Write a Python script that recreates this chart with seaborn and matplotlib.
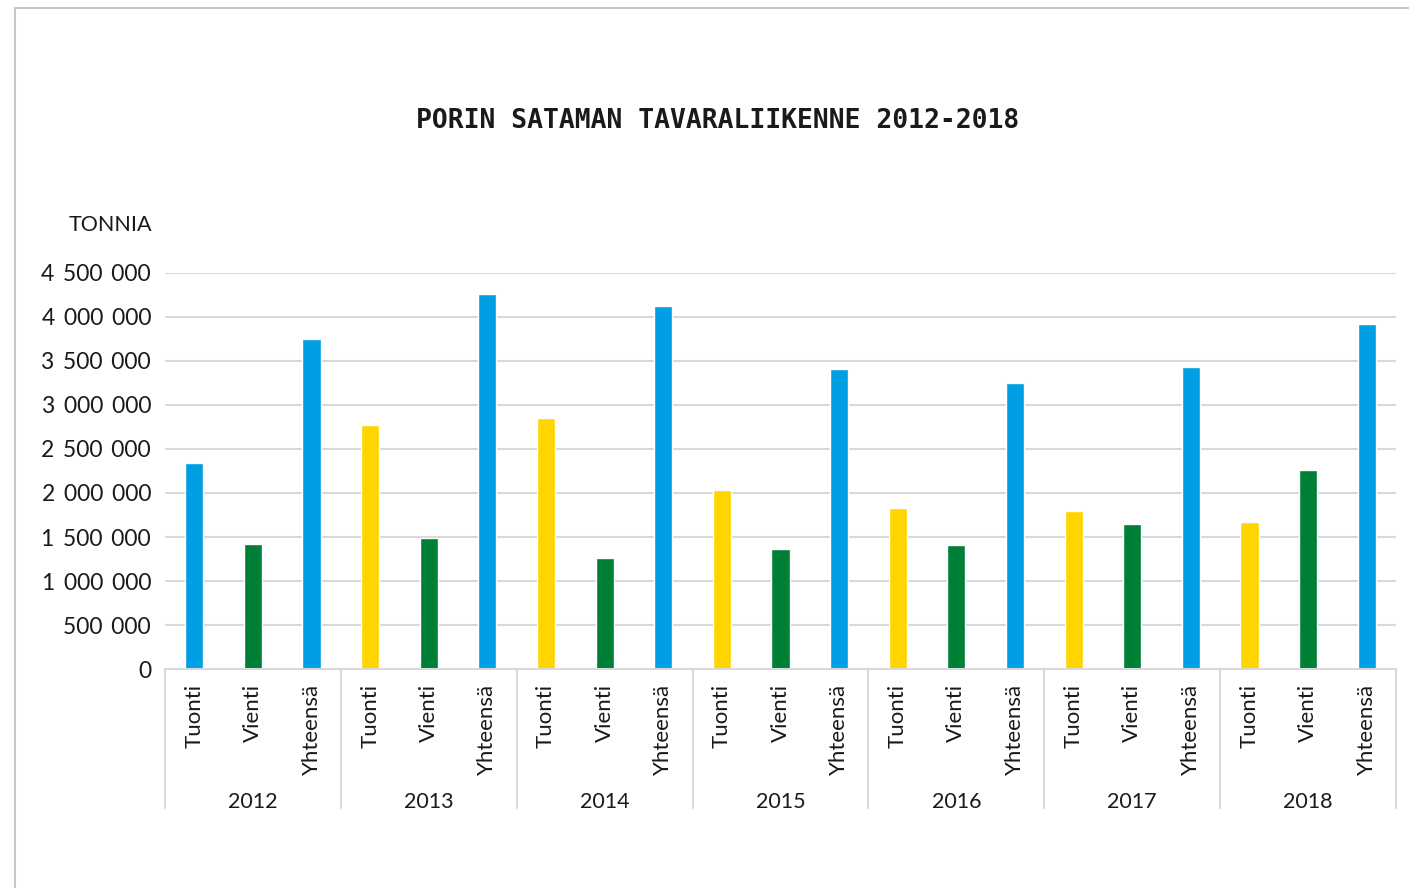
import numpy as np
import pandas as pd
import seaborn as sns
import matplotlib
matplotlib.use('Agg')
import matplotlib.pyplot as plt
from matplotlib.lines import Line2D
from matplotlib.ticker import FuncFormatter

# data (tonnes)
years = ['2012', '2013', '2014', '2015', '2016', '2017', '2018']
categories = ['Tuonti', 'Vienti', 'Yhteensä']
tuonti = [2340000, 2770000, 2850000, 2030000, 1830000, 1790000, 1670000]
vienti = [1420000, 1490000, 1260000, 1360000, 1410000, 1650000, 2260000]
yhteensa = [3750000, 4260000, 4120000, 3410000, 3250000, 3430000, 3920000]

blue = '#009FE3'
green = '#007F36'
yellow = '#FFD500'

rows = []
for i, y in enumerate(years):
    for cat, vals in zip(categories, [tuonti, vienti, yhteensa]):
        rows.append({'key': y + ' ' + cat, 'year': y, 'cat': cat, 'value': vals[i]})
df = pd.DataFrame(rows)

# 2012 import bar is blue in the original, others yellow
colors = []
for _, r in df.iterrows():
    if r['cat'] == 'Vienti':
        colors.append(green)
    elif r['cat'] == 'Yhteensä' or r['year'] == '2012':
        colors.append(blue)
    else:
        colors.append(yellow)

sns.set_style('white')
plt.rcParams['font.family'] = ['Lato', 'DejaVu Sans']

fig = plt.figure(figsize=(14.09, 8.88), dpi=100)
ax = fig.add_axes([0.1171, 0.2466, 0.8737, 0.446])

sns.barplot(data=df, x='key', y='value', hue='key', palette=colors,
            legend=False, width=0.31, saturation=1, ax=ax)

ax.set_ylim(0, 4500000)
ax.set_xlim(-0.5, len(df) - 0.5)
ax.set_yticks(np.arange(0, 4500001, 500000))
ax.yaxis.set_major_formatter(FuncFormatter(lambda v, p: '{:,.0f}'.format(v).replace(',', ' \u2009')))
ax.yaxis.grid(True, color='#d9d9d9', linewidth=1.5)
ax.set_axisbelow(True)

ax.set_xticks(range(len(df)))
ax.set_xticklabels(df['cat'], rotation=90, fontsize=16, color='#1a1a1a')
ax.tick_params(axis='x', length=0, pad=11)
ax.tick_params(axis='y', length=0, pad=10, labelsize=16.5, labelcolor='#1a1a1a')
for lbl in ax.get_xticklabels():
    lbl.set_verticalalignment('top')

for s in ['top', 'right', 'left']:
    ax.spines[s].set_visible(False)
ax.spines['bottom'].set_color('#d9d9d9')
ax.spines['bottom'].set_linewidth(1.5)
ax.set_xlabel('')
ax.set_ylabel('')

# year group separators and labels
trans = ax.get_xaxis_transform()
for i, y in enumerate(years):
    ax.text(i * 3 + 1, -0.336, y, transform=trans, ha='center', va='center',
            fontsize=15.5, color='#1a1a1a')
for b in np.arange(-0.5, len(df), 3):
    ax.plot([b, b], [0, -0.351], transform=trans, color='#d9d9d9',
            linewidth=1.5, clip_on=False)

ax.text(-0.0106, 1.12, 'TONNIA', transform=ax.transAxes, ha='right', va='center',
        fontsize=15.5, color='#1a1a1a')

fig.text(0.509, 1 - 121 / 888, 'PORIN SATAMAN TAVARALIIKENNE 2012-2018',
         family='DejaVu Sans Mono', fontweight='bold', fontsize=19,
         ha='center', va='center', color='#1a1a1a')

# light frame around the chart area
fig.add_artist(Line2D([15 / 1409, 1], [1 - 8 / 888, 1 - 8 / 888], color='#c8c8c8', linewidth=1.5))
fig.add_artist(Line2D([15 / 1409, 15 / 1409], [0, 1 - 8 / 888], color='#c8c8c8', linewidth=1.5))

plt.savefig('out.png', dpi=100)
